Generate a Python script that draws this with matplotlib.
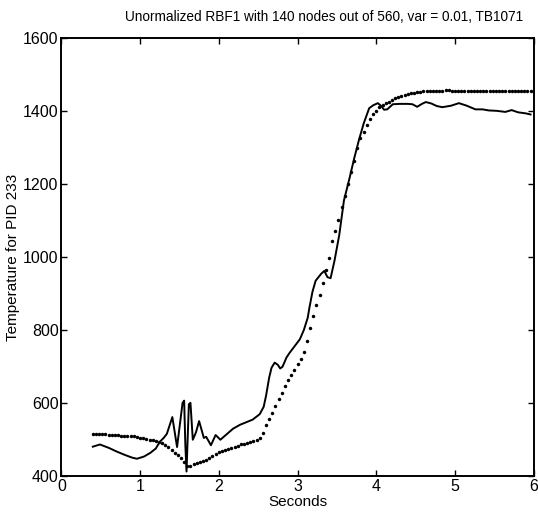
import numpy as np
import matplotlib
matplotlib.use('Agg')
import matplotlib.pyplot as plt

plt.rcParams['font.family'] = ['Liberation Sans', 'DejaVu Sans']

# temperatura real (muestreada cada 0.04 s desde 0.4 hasta 6.0)
actual = [517, 517, 516, 516, 515, 514, 514, 513, 512, 511,
          511, 510, 509, 509, 508, 506, 505, 503, 500, 498,
          496, 494, 491, 486, 480, 472, 464, 457, 449, 440,
          427, 429, 434, 437, 439, 441, 445, 449, 455, 461,
          466, 469, 473, 476, 478, 481, 484, 487, 489, 491,
          494, 496, 498, 505, 519, 540, 557, 574, 592, 611,
          629, 648, 663, 678, 692, 706, 722, 740, 770, 805,
          839, 869, 896, 930, 965, 996, 1043, 1070, 1100, 1137,
          1166, 1200, 1232, 1262, 1298, 1325, 1343, 1362, 1378, 1390,
          1400, 1411, 1417, 1421, 1425, 1430, 1434, 1438, 1441, 1444,
          1447, 1449, 1450, 1451, 1452, 1453, 1454, 1455, 1455, 1455,
          1455, 1455, 1456, 1456, 1455, 1455, 1455, 1455, 1455, 1455,
          1455, 1455, 1455, 1455, 1455, 1455, 1455, 1455, 1455, 1455,
          1455, 1455, 1455, 1455, 1455, 1455, 1455, 1455, 1455, 1455,
          1455]
t_actual = np.linspace(0.4, 6.0, len(actual))

# salida de la red RBF
t_model = [0.40, 0.49, 0.60, 0.70, 0.80, 0.90, 0.96, 1.05, 1.13, 1.20,
           1.25, 1.30, 1.34, 1.41, 1.47, 1.54, 1.56, 1.575, 1.59, 1.62,
           1.64, 1.67, 1.71, 1.75, 1.81, 1.84, 1.90, 1.96, 2.02, 2.10,
           2.18, 2.27, 2.35, 2.43, 2.52, 2.57, 2.60, 2.64, 2.67, 2.71,
           2.75, 2.78, 2.81, 2.86, 2.90, 2.96, 3.03, 3.08, 3.13, 3.15,
           3.19, 3.23, 3.30, 3.34, 3.38, 3.42, 3.47, 3.53, 3.59, 3.66,
           3.72, 3.78, 3.84, 3.91, 3.96, 4.02, 4.06, 4.10, 4.14, 4.21,
           4.30, 4.40, 4.46, 4.52, 4.58, 4.63, 4.70, 4.77, 4.84, 4.95,
           5.05, 5.15, 5.26, 5.35, 5.43, 5.53, 5.64, 5.72, 5.80, 5.90,
           5.96]
model = [481, 487, 478, 468, 459, 451, 448, 454, 464, 476,
         494, 505, 516, 562, 480, 601, 607, 487, 413, 597,
         601, 500, 520, 551, 505, 508, 485, 513, 500, 515,
         530, 541, 548, 555, 570, 590, 620, 670, 697, 711,
         705, 695, 700, 725, 738, 755, 775, 800, 834, 860,
         905, 935, 954, 962, 945, 942, 990, 1060, 1155, 1215,
         1270, 1320, 1365, 1407, 1415, 1421, 1414, 1403, 1404, 1418,
         1419, 1419, 1418, 1411, 1419, 1424, 1420, 1413, 1410, 1414,
         1421, 1414, 1404, 1404, 1401, 1400, 1397, 1402, 1396, 1393,
         1390]

fig = plt.figure(figsize=(5.38, 5.19), dpi=100)
ax = fig.add_axes([0.114, 0.0823, 0.878, 0.845])

ax.plot(t_model, model, '-', color='black', lw=1.4)
ax.plot(t_actual, actual, 'o', color='black', ms=2.5, mew=0)

ax.set_xlim(0, 6)
ax.set_ylim(400, 1600)
ax.set_xticks(range(0, 7))
ax.set_yticks(range(400, 1601, 200))
ax.tick_params(direction='in', length=4, width=1, top=True, right=True,
               labelsize=11.5, pad=2)
for s in ax.spines.values():
    s.set_linewidth(1.4)

ax.set_title('Unormalized RBF1 with 140 nodes out of 560, var = 0.01, TB1071',
             fontsize=9.8, x=0.556, pad=12)
ax.set_xlabel('Seconds', fontsize=11, labelpad=1)
ax.set_ylabel('Temperature for PID 233', fontsize=11, labelpad=2)

fig.savefig('out.png', dpi=100)
